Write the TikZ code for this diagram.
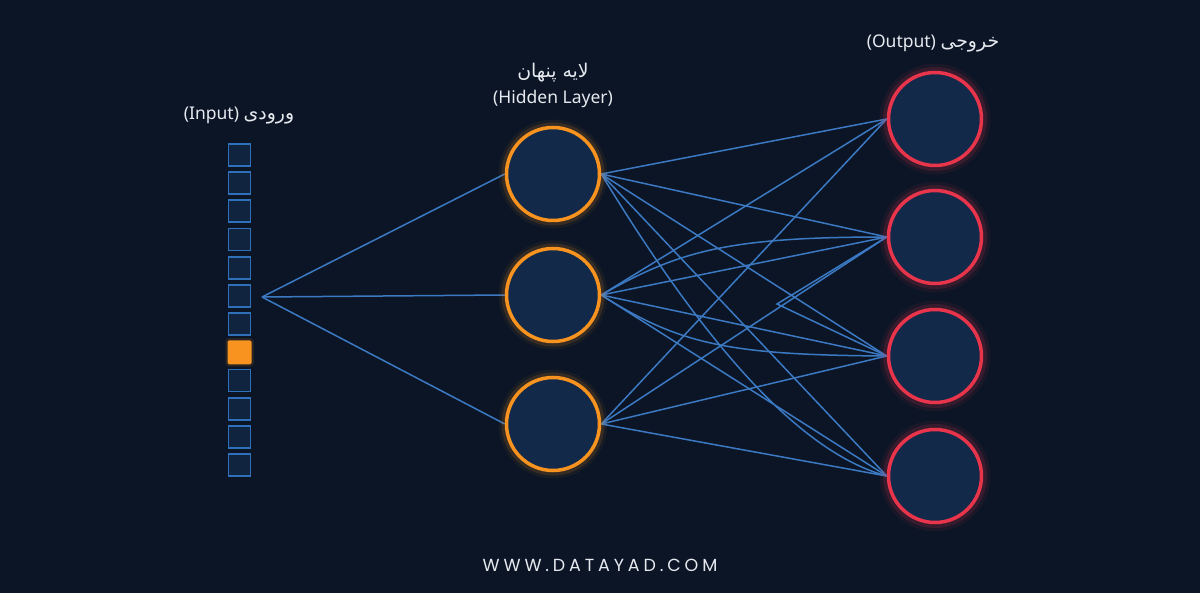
\documentclass[tikz,border=0pt]{standalone}
\usepackage{fontspec}
\setmainfont{Noto Sans}
\newfontfamily\arabicfont[Script=Arabic,Scale=1.08]{DejaVu Sans}
\newfontfamily\webfont[LetterSpace=22]{Poppins}
\TeXXeTstate=1
\usetikzlibrary{backgrounds}
\definecolor{bg}{HTML}{0B1526}
\definecolor{nodefill}{HTML}{13294A}
\definecolor{cellfill}{HTML}{11243F}
\definecolor{cellline}{HTML}{2F70BA}
\definecolor{orangeS}{HTML}{F7931E}
\definecolor{redS}{HTML}{E8354B}
\definecolor{wire}{HTML}{3B79C2}
\definecolor{txtc}{HTML}{E6E9EE}
\begin{document}
\begin{tikzpicture}[x=1pt,y=-1pt,
  hid/.style={circle, minimum size=93pt, inner sep=0pt, draw=orangeS, line width=3.5pt, fill=nodefill,
    preaction={draw=orangeS, line width=16pt, draw opacity=0.06},
    preaction={draw=orangeS, line width=10pt, draw opacity=0.14}},
  outn/.style={circle, minimum size=93pt, inner sep=0pt, draw=redS, line width=3.5pt, fill=nodefill,
    preaction={draw=redS, line width=18pt, draw opacity=0.07},
    preaction={draw=redS, line width=11pt, draw opacity=0.15}},
  cell/.style={rectangle, minimum size=22pt, inner sep=0pt, draw=cellline, line width=1.8pt, fill=cellfill},
  cellon/.style={rectangle, minimum size=22.5pt, inner sep=0pt, draw=orangeS, line width=1.5pt, fill=orangeS, rounded corners=1pt,
    preaction={draw=orangeS, line width=6pt, draw opacity=0.12}},
  wire/.style={draw=wire, line width=1.5pt},
  txt/.style={text=txtc, inner sep=0pt, font=\fontsize{17.5}{21}\selectfont}]
\useasboundingbox (0,0) rectangle (1200,593);
% input cells
\foreach \i in {1,...,12} {
  \pgfmathsetmacro\yy{155+28.2*(\i-1)}
  \ifnum\i=8
    \node[cellon] (s\i) at (239.5,\yy) {};
  \else
    \node[cell] (s\i) at (239.5,\yy) {};
  \fi
}
\coordinate (in) at (262,297);
% hidden
\node[hid] (H1) at (553,174) {};
\node[hid] (H2) at (553,295) {};
\node[hid] (H3) at (553,424) {};
% output
\node[outn] (O1) at (935,119) {};
\node[outn] (O2) at (935,237) {};
\node[outn] (O3) at (935,356) {};
\node[outn] (O4) at (935,476) {};
\coordinate (V) at (777,304);
\begin{scope}[on background layer]
  \fill[bg] (0,0) rectangle (1200,593);
  \foreach \h in {1,2,3} \draw[wire] (in) -- (H\h.west);
  \foreach \h in {1,2,3} \foreach \o in {1,...,4} \draw[wire] (H\h.east) -- (O\o.west);
  \draw[wire] (H2.east) .. controls (680,250) and (730,237) .. (O2.west);
  \draw[wire] (H2.east) .. controls (680,345) and (730,355) .. (O3.west);
  \draw[wire] (H1.east) .. controls (690,320) and (790,450) .. (O4.west);
  \draw[wire] (O2.west) -- (V) -- (O3.west);
\end{scope}
% labels
\node[txt] (lin) at (239,116) {(Input) {\arabicfont\beginR ورودی\endR}};
\node[txt] (lh1) at (553,73) {\arabicfont\beginR لایه پنهان\endR};
\node[txt] (lh2) at (553,99) {(Hidden Layer)};
\node[txt] (lo) at (933,43) {(Output) {\arabicfont\beginR خروجی\endR}};
\node[txt, font=\webfont\fontsize{17.5}{21}\selectfont] (web) at (600,565) {WWW.DATAYAD.COM};
\end{tikzpicture}
\end{document}
